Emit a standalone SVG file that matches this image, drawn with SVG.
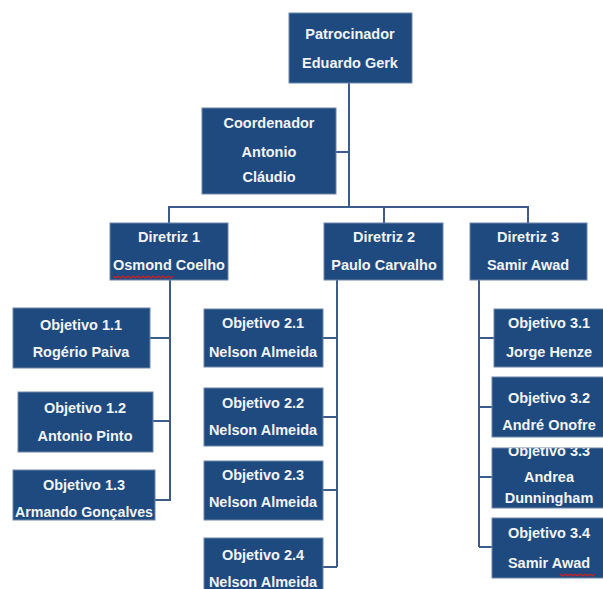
<svg xmlns="http://www.w3.org/2000/svg" width="603" height="589" viewBox="0 0 603 589">
<style>
.box{fill:#1f4a7f;stroke:#6d86ad;stroke-width:1}
.t{font-family:"Liberation Sans",Arial,sans-serif;font-weight:bold;font-size:14.5px;fill:#f2f4f8;text-anchor:middle}
.c{fill:none;stroke:#3d5b8c;stroke-width:2}
.sp{fill:none;stroke:#d02020;stroke-width:1.3}
</style>
<defs>
<clipPath id="clip33"><rect x="492" y="448" width="112" height="60"/></clipPath>
</defs>
<rect width="603" height="589" fill="#ffffff"/>
<g id="connectors">
<path class="c" d="M349 83V207M336 152H349M169 223V207H528V223M384 207V223"/>
<path class="c" d="M170 280V501M150 338H170M153 421H170M155 500H170"/>
<path class="c" d="M337 280V567M323 338H337M323 417H337M323 490H337M323 567H337"/>
<path class="c" d="M479 280V547M479 338H494M479 407H492M479 477H492M479 547H492"/>
</g>
<g id="patrocinador"><rect class="box" x="289" y="13" width="123" height="70"/><text class="t" x="350" y="39">Patrocinador</text><text class="t" x="350" y="68">Eduardo Gerk</text></g>
<g id="coordenador"><rect class="box" x="202" y="108" width="134" height="86"/><text class="t" x="269" y="128">Coordenador</text><text class="t" x="269" y="157">Antonio</text><text class="t" x="269" y="182">Cláudio</text></g>
<g id="diretriz1"><rect class="box" x="110" y="223" width="118" height="57"/><text class="t" x="169" y="242">Diretriz 1</text><text class="t" x="169" y="270">Osmond Coelho</text><path class="sp" d="M113 276l2.5 2 2.5-2 2.5 2 2.5-2 2.5 2 2.5-2 2.5 2 2.5-2 2.5 2 2.5-2 2.5 2 2.5-2 2.5 2 2.5-2 2.5 2 2.5-2 2.5 2 2.5-2 2.5 2 2.5-2 2.5 2 2.5-2 2.5 2 2.5-2"/></g>
<g id="diretriz2"><rect class="box" x="324" y="223" width="119" height="57"/><text class="t" x="384" y="242">Diretriz 2</text><text class="t" x="384" y="270">Paulo Carvalho</text></g>
<g id="diretriz3"><rect class="box" x="470" y="223" width="117" height="57"/><text class="t" x="528" y="242">Diretriz 3</text><text class="t" x="528" y="270">Samir Awad</text></g>
<g id="obj11"><rect class="box" x="13" y="308" width="137" height="60"/><text class="t" x="81" y="330">Objetivo 1.1</text><text class="t" x="81" y="357">Rogério Paiva</text></g>
<g id="obj12"><rect class="box" x="18" y="392" width="135" height="60"/><text class="t" x="85" y="413">Objetivo 1.2</text><text class="t" x="85" y="441">Antonio Pinto</text></g>
<g id="obj13"><rect class="box" x="13" y="470" width="142" height="50"/><text class="t" x="84" y="490">Objetivo 1.3</text><text class="t" x="84" y="517" textLength="138" lengthAdjust="spacingAndGlyphs">Armando Gonçalves</text></g>
<g id="obj21"><rect class="box" x="204" y="309" width="119" height="58"/><text class="t" x="263" y="328">Objetivo 2.1</text><text class="t" x="263" y="357">Nelson Almeida</text></g>
<g id="obj22"><rect class="box" x="204" y="388" width="119" height="58"/><text class="t" x="263" y="408">Objetivo 2.2</text><text class="t" x="263" y="435">Nelson Almeida</text></g>
<g id="obj23"><rect class="box" x="204" y="461" width="119" height="59"/><text class="t" x="263" y="480">Objetivo 2.3</text><text class="t" x="263" y="507">Nelson Almeida</text></g>
<g id="obj24"><rect class="box" x="204" y="538" width="119" height="60"/><text class="t" x="263" y="560">Objetivo 2.4</text><text class="t" x="263" y="587">Nelson Almeida</text></g>
<g id="obj31"><rect class="box" x="494" y="309" width="112" height="58"/><text class="t" x="549" y="328">Objetivo 3.1</text><text class="t" x="549" y="357">Jorge Henze</text></g>
<g id="obj32"><rect class="box" x="492" y="377" width="114" height="60"/><text class="t" x="549" y="403">Objetivo 3.2</text><text class="t" x="549" y="430">André Onofre</text></g>
<g id="obj33"><rect class="box" x="492" y="448" width="114" height="60"/><g clip-path="url(#clip33)"><text class="t" x="549" y="456">Objetivo 3.3</text><text class="t" x="549" y="482">Andrea</text><text class="t" x="549" y="503">Dunningham</text></g></g>
<g id="obj34"><rect class="box" x="492" y="518" width="114" height="60"/><text class="t" x="549" y="538">Objetivo 3.4</text><text class="t" x="549" y="568">Samir Awad</text><path class="sp" d="M560 574l2.5 2 2.5-2 2.5 2 2.5-2 2.5 2 2.5-2 2.5 2 2.5-2 2.5 2 2.5-2 2.5 2 2.5-2 2.5 2 2.5-2"/></g>
</svg>
